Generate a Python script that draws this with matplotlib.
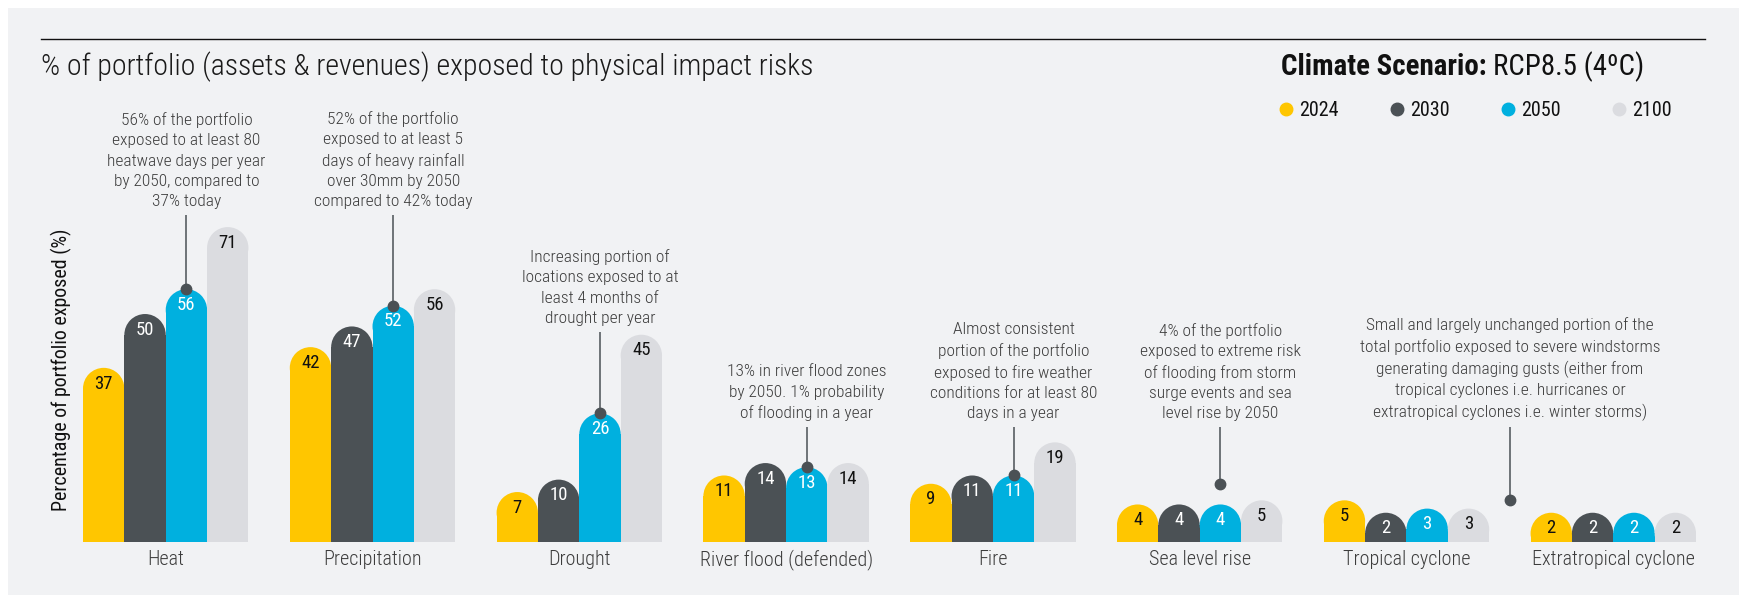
import matplotlib
matplotlib.use("Agg")
import matplotlib.pyplot as plt
from matplotlib.patches import Ellipse, Rectangle
from matplotlib.lines import Line2D

categories = ["Heat", "Precipitation", "Drought", "River flood (defended)", "Fire",
              "Sea level rise", "Tropical cyclone", "Extratropical cyclone"]
years = ["2024", "2030", "2050", "2100"]
v2024 = [37, 42, 7, 11, 9, 4, 5, 2]
v2030 = [50, 47, 10, 14, 11, 4, 2, 2]
v2050 = [56, 52, 26, 13, 11, 4, 3, 2]
v2100 = [71, 56, 45, 14, 19, 5, 3, 2]

notes = [
    "56% of the portfolio\nexposed to at least 80\nheatwave days per year\nby 2050, compared to\n37% today",
    "52% of the portfolio\nexposed to at least 5\ndays of heavy rainfall\nover 30mm by 2050\ncompared to 42% today",
    "Increasing portion of\nlocations exposed to at\nleast 4 months of\ndrought per year",
    "13% in river flood zones\nby 2050. 1% probability\nof flooding in a year",
    "Almost consistent\nportion of the portfolio\nexposed to fire weather\nconditions for at least 80\ndays in a year",
    "4% of the portfolio\nexposed to extreme risk\nof flooding from storm\nsurge events and sea\nlevel rise by 2050",
    "Small and largely unchanged portion of the\ntotal portfolio exposed to severe windstorms\ngenerating damaging gusts (either from\ntropical cyclones i.e. hurricanes or\nextratropical cyclones i.e. winter storms)",
]

colors = ["#FFC600", "#4B5155", "#00B0DF", "#DBDCE0"]
label_colors = ["#111111", "white", "white", "#111111"]
FONT = ["Roboto Condensed", "DejaVu Sans"]
TXT = "#3C3C3C"

plt.rcParams["font.family"] = FONT

W, H = 1739, 595
fig = plt.figure(figsize=(W / 100, H / 100), dpi=100)
fig.patch.set_facecolor("white")
fig.add_artist(Rectangle((8 / W, 0), 1, 1 - 8 / H, transform=fig.transFigure,
                         fc="#F1F2F4", ec="none", zorder=-10))
fig.add_artist(Line2D([41 / W, 1705 / W], [1 - 39 / H] * 2, color="#111111", lw=1))

fig.text(41 / W, 1 - 67 / H, "% of portfolio (assets & revenues) exposed to physical impact risks",
         fontsize=21.5, fontweight="light", color="#1A1A1A", va="center", ha="left")
fig.text(61 / W, 1 - 370 / H, "Percentage of portfolio exposed (%)", rotation=90,
         fontsize=14.4, color="#111111", va="center", ha="center")

t1 = fig.text(1281 / W, 1 - 67 / H, "Climate Scenario:", fontsize=20.8, fontweight="bold",
              color="#111111", va="center", ha="left")
r = fig.canvas.get_renderer()
bb = t1.get_window_extent(r)
fig.text((bb.x1 + 6) / W, 1 - 67 / H, "RCP8.5 (4ºC)", fontsize=20.8, color="#111111",
         va="center", ha="left")

ax = fig.add_axes([83 / W, (H - 541.7) / H, 1613 / W, 414 / H])
ax.set_xlim(0, 39)
ax.set_ylim(0, 100)
ax.axis("off")
px_x = 1613 / 39
px_y = 414 / 100
ry = 0.5 * px_x / px_y

series = [v2024, v2030, v2050, v2100]
for s, vals in enumerate(series):
    xs = [g * 5 + s for g in range(len(categories))]
    ax.bar(xs, vals, width=1, align="edge", color=colors[s], lw=0, label=years[s])
    for x, v in zip(xs, vals):
        ax.add_patch(Ellipse((x + 0.5, v), 1, 2 * ry, fc=colors[s], ec="none", lw=0))
        ax.text(x + 0.5, v + 1.2, str(v), ha="center", va="center", fontsize=13.5,
                color=label_colors[s])

for g, name in enumerate(categories):
    ax.text(g * 5 + 2, -4.2, name, ha="center", va="center", fontsize=14.5,
            fontweight="light", color=TXT)

# annotation anchors: x, dot height, top of leader line
anchors = [
    (2.5, v2050[0] + ry, 78.9),
    (7.5, v2050[1] + ry, 78.9),
    (12.5, v2050[2] + ry, 50.7),
    (17.5, v2050[3] + ry, 27.7),
    (22.5, v2050[4] + ry, 27.7),
    (27.5, v2050[5] + ry + 5, 27.7),
    (34.5, 10.1, 27.7),
]
for (x, yd, yt), txt in zip(anchors, notes):
    ax.plot([x, x], [yd, yt], color="#4B5155", lw=1.1, solid_capstyle="butt")
    ax.plot(x, yd, "o", color="#4B5155", ms=7.5)
    ax.annotate(txt, (x, yt), xytext=(0, 4), textcoords="offset points", ha="center",
                va="bottom", fontsize=12.5, fontweight="light", color=TXT, linespacing=1.45)

handles = [Line2D([], [], ls="none", marker="o", ms=9, color=c) for c in colors]
fig.legend(handles, years, loc="center left", bbox_to_anchor=(1280 / W, 1 - 111 / H),
           ncol=4, frameon=False, fontsize=14.5, handlelength=0.6, handletextpad=0.35,
           columnspacing=2.6, borderpad=0, borderaxespad=0, labelcolor="#111111")

fig.savefig("out.png", dpi=100, facecolor=fig.get_facecolor())
